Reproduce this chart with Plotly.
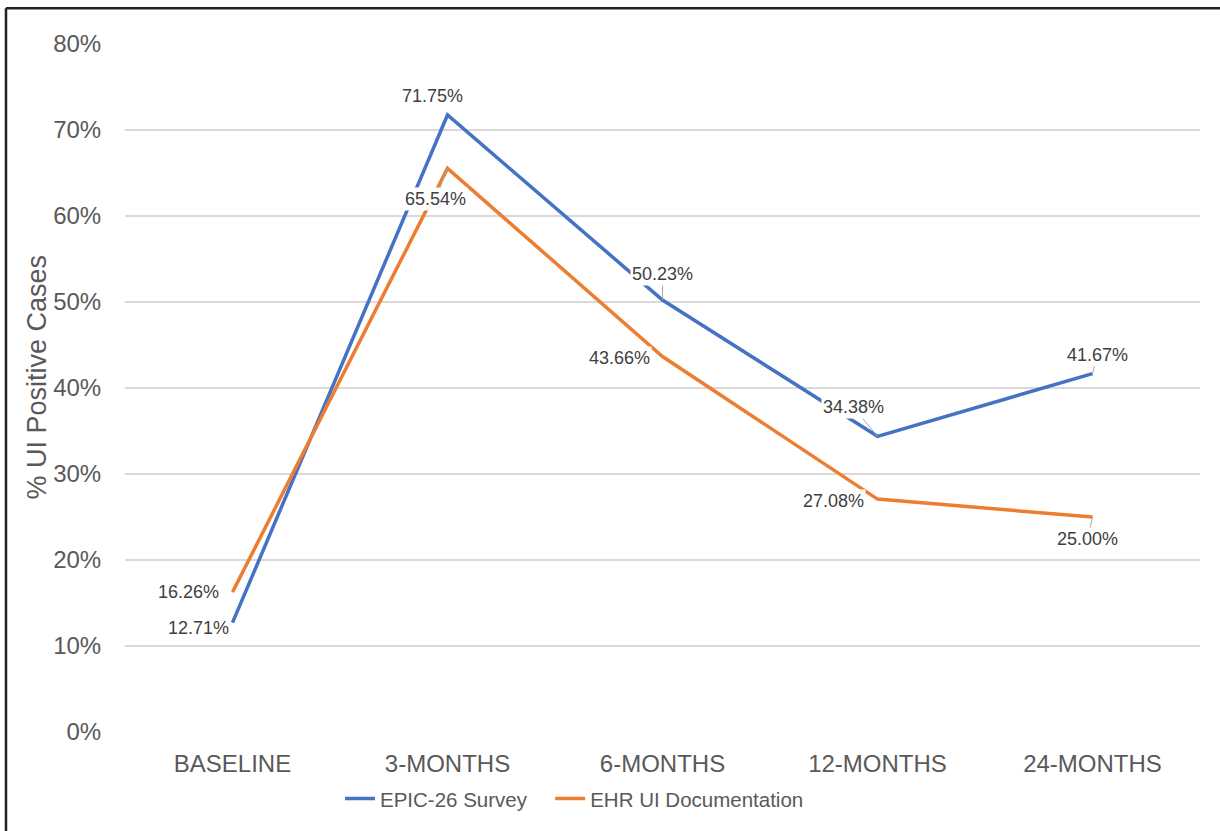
import plotly.graph_objects as go

categories = ["BASELINE", "3-MONTHS", "6-MONTHS", "12-MONTHS", "24-MONTHS"]
epic26 = [0.1271, 0.7175, 0.5023, 0.3438, 0.4167]
ehr_ui = [0.1626, 0.6554, 0.4366, 0.2708, 0.2500]
y_ticks = [0, 0.1, 0.2, 0.3, 0.4, 0.5, 0.6, 0.7, 0.8]

BLUE = "#4472C4"
ORANGE = "#ED7D31"
TXT = "#595959"
FONT = "Liberation Sans, Arial, Helvetica, sans-serif"

fig = go.Figure()
fig.add_trace(go.Scatter(x=categories, y=epic26, mode="lines", name="EPIC-26 Survey",
                         line=dict(color=BLUE, width=3.5), legend="legend"))
fig.add_trace(go.Scatter(x=categories, y=ehr_ui, mode="lines", name="EHR UI Documentation",
                         line=dict(color=ORANGE, width=3.5), legend="legend2"))

# label offsets (pixels) and whether a leader line is shown
blue_off = [(-34, 5, False), (-15, -19, False), (0, -26, True), (-24, -29, True), (5, -19, True)]
orange_off = [(-44, 0, False), (-12, 31, True), (-43, 1, False), (-44, 2, False), (-5, 22, True)]

annotations = []
for series, offs in ((epic26, blue_off), (ehr_ui, orange_off)):
    for cat, val, (dx, dy, lead) in zip(categories, series, offs):
        a = dict(x=cat, y=val, xref="x", yref="y", text=f"{val*100:.2f}%",
                 font=dict(family=FONT, size=18, color="#404040"),
                 bgcolor="white", borderpad=1)
        if lead:
            a.update(showarrow=True, ax=dx, ay=dy, arrowhead=0, arrowwidth=1,
                     arrowcolor="#A6A6A6", standoff=0)
        else:
            a.update(showarrow=False, xshift=dx, yshift=-dy)
        annotations.append(a)

# y-axis title
annotations.append(dict(text="% UI Positive Cases", xref="paper", yref="paper",
                        x=-0.0819, y=0.5166, xanchor="center", yanchor="middle",
                        textangle=-90, showarrow=False,
                        font=dict(family=FONT, size=27, color=TXT)))

leg_common = dict(orientation="h", xanchor="left", y=-0.097, yanchor="middle",
                  font=dict(size=20.5, color=TXT), itemwidth=30, bgcolor="rgba(0,0,0,0)")

fig.update_layout(
    width=1220, height=831,
    margin=dict(l=125, r=20, t=44, b=96),
    paper_bgcolor="white", plot_bgcolor="white",
    font=dict(family=FONT, color=TXT),
    showlegend=True,
    legend=dict(x=0.2, **leg_common),
    legend2=dict(x=0.3955, **leg_common),
    annotations=annotations,
    shapes=[
        dict(type="line", xref="paper", yref="paper", x0=-0.1107, x1=-0.1107, y0=1.0521, y1=-0.16,
             line=dict(color="#222222", width=2.5)),
        dict(type="line", xref="paper", yref="paper", x0=-0.1107, x1=1.03, y0=1.0521, y1=1.0521,
             line=dict(color="#222222", width=2.5)),
    ],
)
fig.update_xaxes(type="category", range=[-0.5, 4.5], showgrid=False, zeroline=False, showline=False,
                 ticks="outside", ticklen=10, tickcolor="rgba(0,0,0,0)",
                 tickfont=dict(size=24, color=TXT))
fig.update_yaxes(range=[0, 0.8], tickvals=y_ticks, tickformat=".0%", showgrid=True,
                 gridcolor="#D9D9D9", gridwidth=1.5, zeroline=False, showline=False,
                 ticks="outside", ticklen=18, tickcolor="rgba(0,0,0,0)",
                 tickfont=dict(size=24, color=TXT))

fig.write_html("out.html", config={"displayModeBar": False},
               post_script="document.body.style.margin='0px';")
